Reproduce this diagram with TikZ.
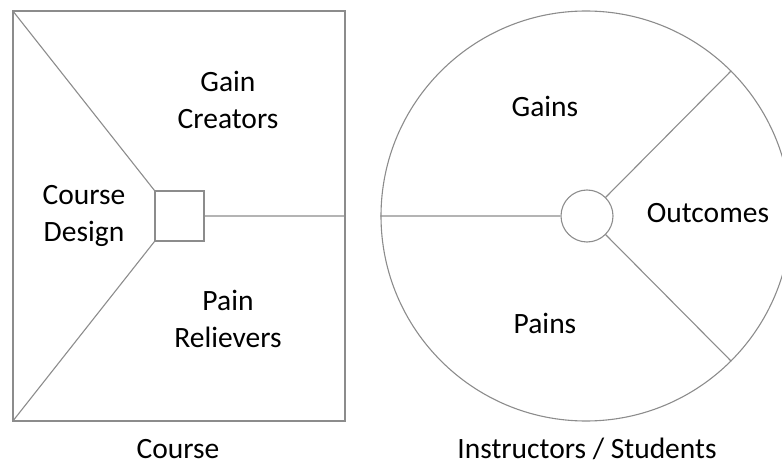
\documentclass[tikz,border=0pt]{standalone}
\usepackage{fontspec}
\setmainfont{Carlito}
\usetikzlibrary{positioning}

\begin{document}
\begin{tikzpicture}[x=1pt,y=-1pt,
	line/.style={draw=black!45,line width=1.1pt},
	label/.style={font=\fontsize{29.5}{37}\selectfont,align=center,inner sep=0pt},
	core/.style={line,minimum width=49pt,minimum height=50pt,inner sep=0pt},
	]
	\useasboundingbox (0,0) rectangle (782,465);
	\node [line,minimum width=332pt,minimum height=410pt,inner sep=0pt] (course) at (179,216) {};
	\node [core] (design) at (179.5,216) {};
	\node [line,circle,minimum size=410pt,inner sep=0pt] (profile) at (586,216) {};
	\node [line,circle,minimum size=52pt,inner sep=0pt] (outcome) at (587,216) {};
	\draw [line] (course.north west) -- (design.north west)
		(course.south west) -- (design.south west)
		(design.east) -- (design.east -| course.east);
	\draw [line] (profile.west) -- (outcome.west)
		(outcome.45) -- (profile.45)
		(outcome.-45) -- (profile.-45);
	\node [label] (gaincreators) at (228,100.4) {Gain\\Creators};
	\node [label] (coursedesign) at (84,215.5) {Course\\Design};
	\node [label] (painrelievers) at (228,318.5) {Pain\\Relievers};
	\node [label,anchor=base] (gains) at (545,117) {Gains};
	\node [label,anchor=base] (pains) at (545,333) {Pains};
	\node [label,anchor=base] (outcomes) at (708,222.7) {Outcomes};
	\node [label,anchor=base] (coursename) at (178,458) {Course};
	\node [label,anchor=base] (customers) at (587,458) {Instructors / Students};
\end{tikzpicture}
\end{document}
